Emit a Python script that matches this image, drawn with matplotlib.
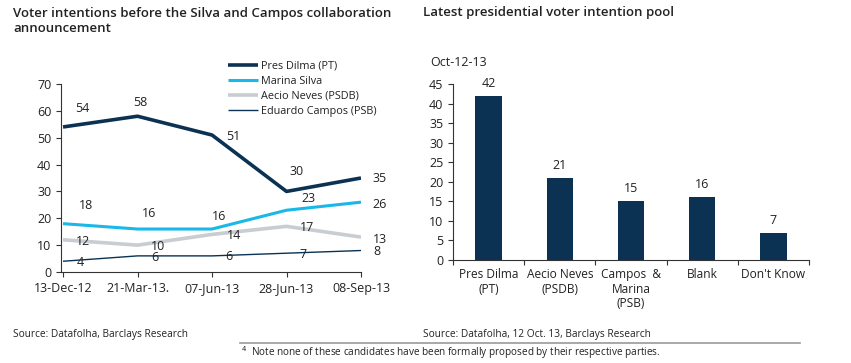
"""
Voter intention charts: line chart (left) and bar chart (right)
"""

import matplotlib
matplotlib.use('Agg')
import matplotlib.pyplot as plt

plt.rcParams['font.family'] = ['Open Sans', 'DejaVu Sans']

# Left chart data
dates = ['13-Dec-12', '21-Mar-13.', '07-Jun-13', '28-Jun-13', '08-Sep-13']
dilma = [54, 58, 51, 30, 35]
marina = [18, 16, 16, 23, 26]
aecio = [12, 10, 14, 17, 13]
campos = [4, 6, 6, 7, 8]

# Right chart data
pool_labels = ['Pres Dilma\n(PT)', 'Aecio Neves\n(PSDB)', 'Campos  &\nMarina\n(PSB)', 'Blank', "Don't Know"]
pool_values = [42, 21, 15, 16, 7]

NAVY = '#0b3253'
CYAN = '#19b8e8'
GREY = '#c9ccd0'
TXT = '#222222'
AX = '#333333'

W, H = 851, 363
fig = plt.figure(figsize=(W / 100, H / 100), dpi=100)

# Titles
fig.text(13 / W, 1 - 7 / H, 'Voter intentions before the Silva and Campos collaboration\nannouncement',
         ha='left', va='top', fontsize=9.5, fontweight='semibold', color=TXT, linespacing=1.15)
fig.text(423 / W, 1 - 6 / H, 'Latest presidential voter intention pool',
         ha='left', va='top', fontsize=9.5, fontweight='semibold', color=TXT)

# ---- Left: line chart
ax1 = fig.add_axes([61 / W, 91 / H, 300 / W, 188 / H])
x = list(range(len(dates)))
series = [
    ('Pres Dilma (PT)', dilma, NAVY, 2.6),
    ('Marina Silva', marina, CYAN, 2.2),
    ('Aecio Neves (PSDB)', aecio, GREY, 2.6),
    ('Eduardo Campos (PSB)', campos, NAVY, 1.0),
]
for name, vals, col, lw in series:
    ax1.plot(x, vals, color=col, lw=lw, label=name, solid_capstyle='butt')

# label offsets in pixels (dx, dy)
offsets = [
    [(19, 18), (3, 14), (21, -1), (10, 20), (19, 0)],
    [(23, 18), (12, 16), (7, 13), (22, 12), (19, -2)],
    [(20, -2), (21, -1), (22, -1), (21, -1), (19, -2)],
    [(17, -1), (17, -2), (17, -1), (17, -1), (16, -1)],
]
for (name, vals, col, lw), offs in zip(series, offsets):
    for xi, v, (dx, dy) in zip(x, vals, offs):
        ax1.annotate(str(v), (xi, v), xytext=(dx, dy), textcoords='offset pixels',
                     ha='center', va='center', fontsize=9, color=TXT)

ax1.set_xlim(-0.027, 4)
ax1.set_ylim(0, 70)
ax1.set_yticks(range(0, 71, 10))
ax1.set_xticks(x)
ax1.set_xticklabels(dates)
ax1.tick_params(axis='both', labelsize=9, colors=AX, labelcolor=TXT, direction='out', length=3.5, width=0.8)
ax1.tick_params(axis='x', pad=4)
for s in ['top', 'right']:
    ax1.spines[s].set_visible(False)
for s in ['left', 'bottom']:
    ax1.spines[s].set_color(AX)
    ax1.spines[s].set_linewidth(0.8)

ax1.legend(loc='upper left', bbox_to_anchor=(0.557, 1.125), frameon=False, fontsize=7.8,
           handlelength=2.8, handletextpad=0.2, labelspacing=0.38, borderpad=0,
           borderaxespad=0, labelcolor=TXT)

# ---- Right: bar chart
ax2 = fig.add_axes([453 / W, 103 / H, 356 / W, 176 / H])
pos = list(range(len(pool_values)))
bars = ax2.bar(pos, pool_values, width=0.37, color=NAVY)
for b, v in zip(bars, pool_values):
    ax2.annotate(str(v), (b.get_x() + b.get_width() / 2, v), xytext=(0, 6),
                 textcoords='offset pixels', ha='center', va='bottom', fontsize=9, color=TXT)

ax2.set_xlim(-0.5, len(pool_values) - 0.5)
ax2.set_ylim(0, 45)
ax2.set_yticks(range(0, 46, 5))
ax2.set_xticks(pos)
ax2.set_xticklabels(pool_labels, linespacing=1.15)
ax2.set_xticks([p - 0.5 for p in pos] + [len(pos) - 0.5], minor=True)
ax2.tick_params(axis='both', labelsize=9, colors=AX, labelcolor=TXT, direction='out', length=3.5, width=0.8)
ax2.tick_params(axis='x', which='major', length=0, pad=6, labelsize=8.6)
ax2.tick_params(axis='x', which='minor', length=3.5, width=0.8, colors=AX)
for s in ['top', 'right']:
    ax2.spines[s].set_visible(False)
for s in ['left', 'bottom']:
    ax2.spines[s].set_color(AX)
    ax2.spines[s].set_linewidth(0.8)

fig.text(430 / W, 1 - 63 / H, 'Oct-12-13', ha='left', va='center', fontsize=9, color=TXT)

# Sources and footnote
fig.text(13 / W, 1 - 334 / H, 'Source: Datafolha, Barclays Research',
         ha='left', va='center', fontsize=7.3, color=TXT)
fig.text(423 / W, 1 - 334 / H, 'Source: Datafolha, 12 Oct. 13, Barclays Research',
         ha='left', va='center', fontsize=7.3, color=TXT)
fig.add_artist(plt.Line2D([240 / W, 800 / W], [1 - 343 / H, 1 - 343 / H], color='#999999', lw=1.2))
fig.text(241 / W, 1 - 353 / H, '$^{4}$  Note none of these candidates have been formally proposed by their respective parties.',
         ha='left', va='center', fontsize=7.2, color=TXT)

plt.savefig('out.png', dpi=100)
plt.close()
